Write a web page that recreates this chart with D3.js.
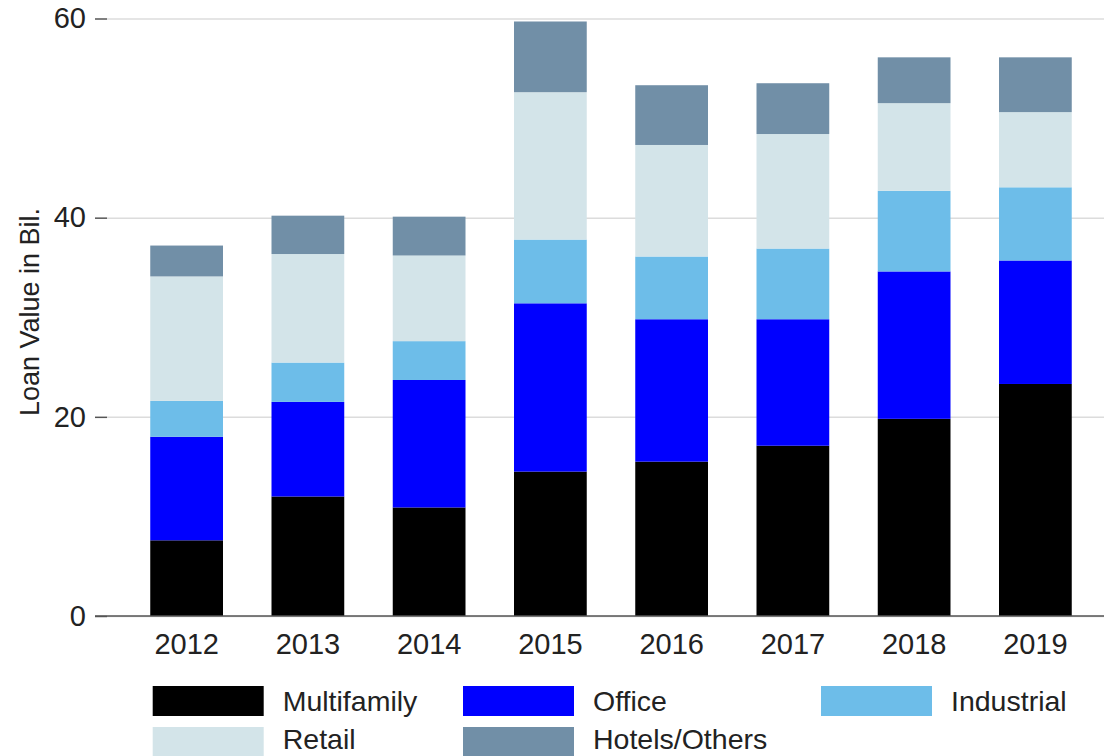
<!DOCTYPE html>
<html>
<head>
<meta charset="utf-8">
<script src="https://cdn.jsdelivr.net/npm/d3@7"></script>
<style>
  body { margin: 0; background: #fff; }
  text { font-family: "Liberation Sans", Arial, sans-serif; fill: #222; }
</style>
</head>
<body>
<div id="chart"></div>
<script>
var years = ["2012", "2013", "2014", "2015", "2016", "2017", "2018", "2019"];
var multifamily = [7.6, 12.0, 10.9, 14.5, 15.5, 17.1, 19.8, 23.3];
var office = [10.4, 9.5, 12.8, 16.9, 14.3, 12.7, 14.8, 12.4];
var industrial = [3.6, 3.95, 3.9, 6.4, 6.3, 7.1, 8.1, 7.35];
var retail = [12.5, 10.9, 8.6, 14.8, 11.2, 11.5, 8.8, 7.55];
var hotels = [3.1, 3.85, 3.9, 7.1, 6.0, 5.1, 4.6, 5.5];
var seriesNames = ["Multifamily", "Office", "Industrial", "Retail", "Hotels/Others"];
var yTicks = [0, 20, 40, 60];

var svgWidth = 1104;
var svgHeight = 756;

var colors = ["#000000", "#0000ff", "#6dbde9", "#d3e4e9", "#718fa7"];

var svg = d3.select("#chart")
  .append("svg")
  .attr("width", svgWidth)
  .attr("height", svgHeight);

// build rows for the stack
var table = years.map(function (yr, i) {
  return {
    year: yr,
    "Multifamily": multifamily[i],
    "Office": office[i],
    "Industrial": industrial[i],
    "Retail": retail[i],
    "Hotels/Others": hotels[i]
  };
});

var stacked = d3.stack().keys(seriesNames)(table);

var x = d3.scaleBand()
  .domain(years)
  .range([126, 1096])
  .paddingInner(0.4)
  .paddingOuter(0.2);

var y = d3.scaleLinear()
  .domain([0, 60])
  .range([616, 18.5]);

var color = d3.scaleOrdinal().domain(seriesNames).range(colors);

// gridlines
var grid = svg.append("g")
  .attr("transform", "translate(107,0)")
  .call(d3.axisLeft(y).tickValues(yTicks).tickSize(-(svgWidth - 107)).tickFormat(""));
grid.select(".domain").remove();
grid.selectAll("line").attr("stroke", "#dcdcdc").attr("stroke-width", 1.5);

// bars
svg.append("g")
  .selectAll("g")
  .data(stacked)
  .enter()
  .append("g")
  .attr("fill", d => color(d.key))
  .selectAll("rect")
  .data(d => d)
  .enter()
  .append("rect")
  .attr("x", d => x(d.data.year))
  .attr("y", d => y(d[1]))
  .attr("width", x.bandwidth())
  .attr("height", d => y(d[0]) - y(d[1]));

// y axis
var yAxis = svg.append("g")
  .attr("transform", "translate(107,0)")
  .call(d3.axisLeft(y).tickValues(yTicks).tickSize(12).tickPadding(9));
yAxis.select(".domain").remove();
yAxis.selectAll("line").attr("stroke", "#555").attr("stroke-width", 1.5);
yAxis.selectAll("text")
  .style("font-size", "29px")
  .attr("fill", "#222");

// baseline
svg.append("line")
  .attr("x1", 95)
  .attr("x2", svgWidth)
  .attr("y1", y(0))
  .attr("y2", y(0))
  .attr("stroke", "#555")
  .attr("stroke-width", 1.5);

// x axis
var xAxis = svg.append("g")
  .attr("transform", `translate(0, ${y(0)})`)
  .call(d3.axisBottom(x).tickSize(0).tickPadding(17));
xAxis.select(".domain").remove();
xAxis.selectAll("text")
  .style("font-size", "29px")
  .attr("fill", "#222");

// y title
svg.append("text")
  .attr("transform", "translate(39, 312) rotate(-90)")
  .style("text-anchor", "middle")
  .style("font-size", "27px")
  .text("Loan Value in Bil.");

// legend
var legendCols = [152.7, 463, 821];
var legendRows = [686, 727];
var legend = svg.append("g")
  .selectAll("g")
  .data(seriesNames)
  .enter()
  .append("g")
  .attr("transform", function (d, i) {
    return `translate(${legendCols[i % 3]}, ${legendRows[Math.floor(i / 3)]})`;
  });

legend.append("rect")
  .attr("width", 111)
  .attr("height", 30)
  .attr("fill", d => color(d));

legend.append("text")
  .attr("x", 130)
  .attr("y", (d, i) => i < 3 ? 25 : 22)
  .style("font-size", "28.5px")
  .text(d => d);
</script>
</body>
</html>
